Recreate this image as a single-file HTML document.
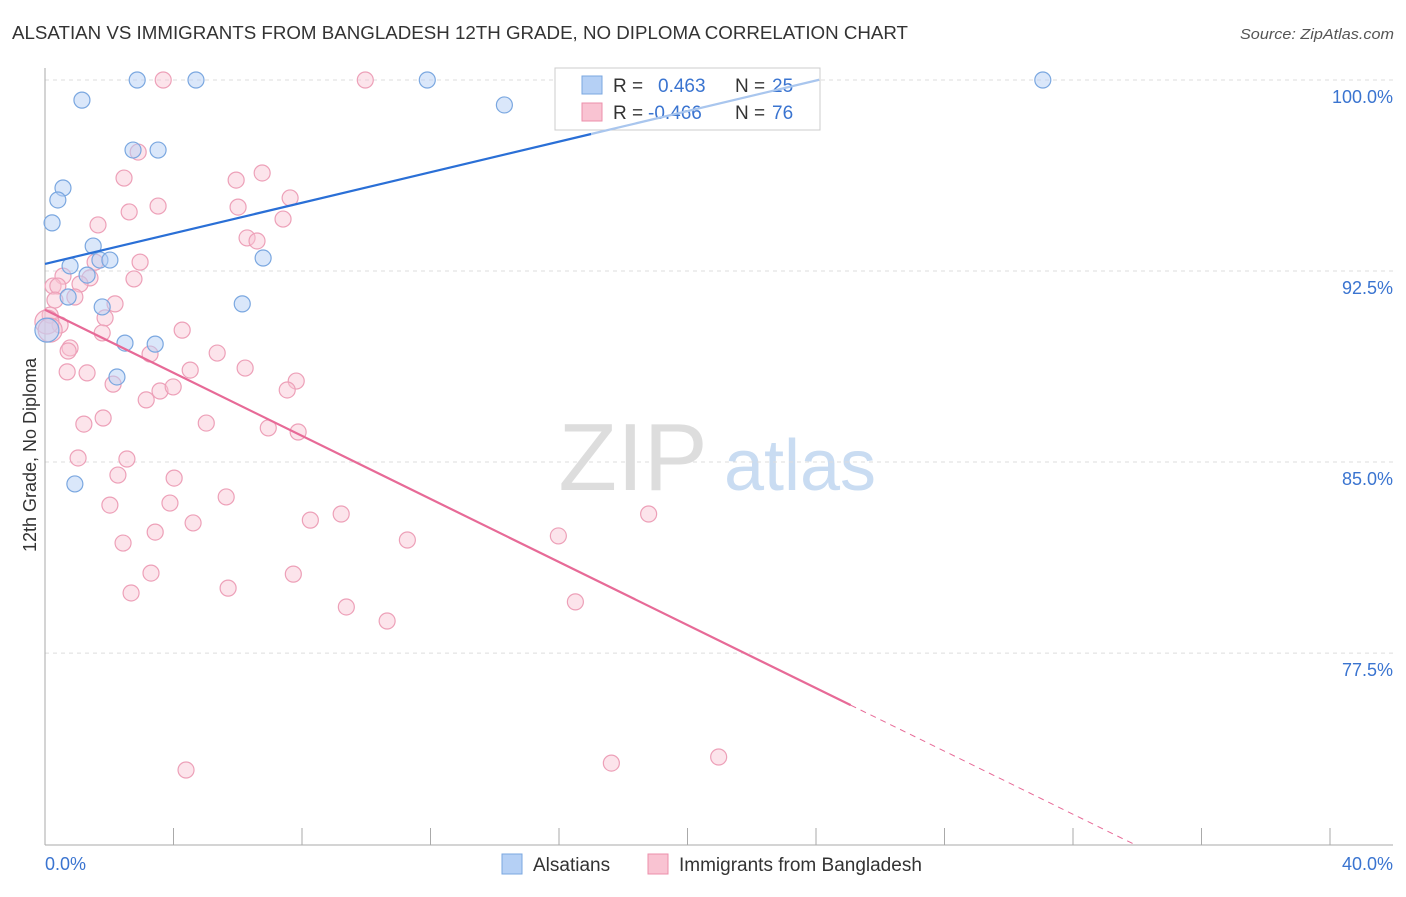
<!DOCTYPE html>
<html><head><meta charset="utf-8"><style>
body{margin:0;background:#fff;font-family:"Liberation Sans",sans-serif;}
svg text{font-family:"Liberation Sans",sans-serif;}
</style></head><body>
<svg id="chart" width="1406" height="892">
<text x="12" y="39" font-size="18" fill="#333" textLength="896" lengthAdjust="spacingAndGlyphs">ALSATIAN VS IMMIGRANTS FROM BANGLADESH 12TH GRADE, NO DIPLOMA CORRELATION CHART</text>
<text x="1240" y="39" font-size="15" fill="#555" font-style="italic" textLength="154" lengthAdjust="spacingAndGlyphs">Source: ZipAtlas.com</text>
<text x="36" y="455" font-size="18" fill="#333" transform="rotate(-90 36 455)" text-anchor="middle">12th Grade, No Diploma</text>
<g><text x="633" y="490" font-size="96" fill="#ddd" font-family="Liberation Serif,serif" text-anchor="middle">ZIP</text><text x="800" y="490" font-size="72" fill="#c9dcf2" text-anchor="middle">atlas</text></g>
<g id="grid"></g><g id="axes"></g>
<g>
<rect x="555" y="68" width="265" height="62" fill="#fff" stroke="#ccc"/>
<rect x="582" y="76" width="20" height="18" fill="#b5d0f5" stroke="#7aa7e0"/>
<text x="613" y="92" font-size="19" fill="#333">R = </text><text x="658" y="92" font-size="19" fill="#3a74d0">0.463</text>
<text x="735" y="92" font-size="19" fill="#333">N = </text><text x="772" y="92" font-size="19" fill="#3a74d0">25</text>
<rect x="582" y="103" width="20" height="18" fill="#f9c3d2" stroke="#ec8fab"/>
<text x="613" y="119" font-size="19" fill="#333">R = </text><text x="648" y="119" font-size="19" fill="#3a74d0">-0.466</text>
<text x="735" y="119" font-size="19" fill="#333">N = </text><text x="772" y="119" font-size="19" fill="#3a74d0">76</text>
</g>
<g id="marks"></g>
<g>
<rect x="502" y="854" width="20" height="20" fill="#b5d0f5" stroke="#7aa7e0"/><text x="533" y="871" font-size="19" fill="#333">Alsatians</text>
<rect x="648" y="854" width="20" height="20" fill="#f9c3d2" stroke="#ec8fab"/><text x="679" y="871" font-size="19" fill="#333">Immigrants from Bangladesh</text>
</g>
</svg>
<script>
const yTicks=[100,92.5,85,77.5];
const yTickLabels=["100.0%","92.5%","85.0%","77.5%"];
const xTicks=[0,4,8,12,16,20,24,28,32,36,40];
const blueX=[2.87,4.70,11.90,31.06,1.15,14.30,2.74,3.52,0.56,0.40,0.22,1.50,0.78,1.71,2.02,1.31,6.79,0.72,1.78,6.14,2.49,3.43,2.24,0.93,0.06];
const blueY=[100,100,100,100,99.21,99.02,97.25,97.25,95.76,95.29,94.39,93.48,92.70,92.93,92.93,92.34,93.01,91.48,91.09,91.21,89.67,89.63,88.34,84.14,90.18];
const pinkX=[3.68,9.97,2.90,2.46,6.76,5.95,3.52,2.62,6.01,7.63,1.65,7.41,6.29,6.60,1.56,2.96,0.56,1.40,2.77,0.25,0.40,1.09,0.93,2.18,0.31,0.16,1.87,0.47,1.78,4.27,0.78,0.72,3.27,5.36,0.69,1.31,4.52,6.23,2.12,7.82,7.54,3.58,3.99,3.15,5.02,1.81,1.21,6.95,7.88,1.03,2.55,2.27,4.02,5.64,3.89,2.02,4.61,8.26,9.22,18.79,3.43,11.28,15.98,2.43,3.30,7.73,2.68,5.70,9.38,16.51,10.65,4.39,17.63,20.97,0.06,0.16];
const pinkY=[100,100,97.17,96.15,96.35,96.07,95.05,94.82,95.01,95.37,94.31,94.54,93.80,93.68,92.85,92.85,92.30,92.23,92.19,91.91,91.91,91.99,91.48,91.21,91.36,90.77,90.66,90.38,90.07,90.18,89.48,89.36,89.24,89.28,88.54,88.50,88.61,88.69,88.06,88.18,87.83,87.79,87.95,87.44,86.53,86.73,86.49,86.34,86.18,85.16,85.12,84.49,84.37,83.63,83.39,83.31,82.61,82.72,82.96,82.96,82.25,81.94,82.10,81.82,80.64,80.60,79.86,80.05,79.31,79.51,78.76,72.91,73.18,73.42,90.50,90.18];
const blueTrend=[92.78,0.30];
const pinkTrend=[90.98,-0.619];
const X=v=>45+v*32.125, Y=v=>80+(100-v)*25.47;
const NS="http://www.w3.org/2000/svg";
function mk(t,a,p){const e=document.createElementNS(NS,t);for(const k in a)e.setAttribute(k,a[k]);p.appendChild(e);return e;}
const grid=document.getElementById('grid'),axes=document.getElementById('axes'),marks=document.getElementById('marks');
yTicks.forEach((t,i)=>{
 const l=mk('line',{x1:45,x2:1393,y1:Y(t),y2:Y(t),stroke:'#ddd','stroke-dasharray':'4,4'},grid);
 
 
 const tx=mk('text',{x:1393,y:Y(t)+23,'font-size':18,fill:'#3a74d0','text-anchor':'end'},axes);tx.textContent=yTickLabels[i];
 
 
});
mk('line',{x1:45,x2:45,y1:68,y2:845,stroke:'#aaa'},axes);
mk('line',{x1:45,x2:1393,y1:845,y2:845,stroke:'#aaa'},axes);
xTicks.forEach(t=>{const l=mk('line',{x1:X(t),x2:X(t),y1:828,y2:845,stroke:'#aaa'},axes);
 
 });
let a=mk('text',{x:45,y:870,'font-size':18,fill:'#3a74d0'},axes);a.textContent='0.0%';


a=mk('text',{x:1393,y:870,'font-size':18,fill:'#3a74d0','text-anchor':'end'},axes);a.textContent='40.0%';


pinkX.forEach((x,i)=>{const c=mk('circle',{cx:X(x),cy:Y(pinkY[i]),r:i>=74?12:8,fill:'rgba(249,195,210,0.45)',stroke:'#eda0b8','stroke-width':1.2},marks);
 
 });
blueX.forEach((x,i)=>{const c=mk('circle',{cx:X(x),cy:Y(blueY[i]),r:i==24?12:8,fill:'rgba(181,208,245,0.5)',stroke:'#7aa7e0','stroke-width':1.2},marks);
 
 });
let l=mk('line',{x1:X(0),y1:Y(blueTrend[0]),x2:X(17),y2:Y(blueTrend[0]+blueTrend[1]*17),stroke:'#2a6fd6','stroke-width':2.2},marks);


l=mk('line',{x1:X(17),y1:Y(blueTrend[0]+blueTrend[1]*17),x2:X(24.1),y2:Y(blueTrend[0]+blueTrend[1]*24.1),stroke:'#a9c6ee','stroke-width':2.2},marks);


l=mk('line',{x1:X(0),y1:Y(pinkTrend[0]),x2:X(25.08),y2:Y(pinkTrend[0]+pinkTrend[1]*25.08),stroke:'#e76a97','stroke-width':2.2},marks);


const xe=(70-pinkTrend[0])/pinkTrend[1];
l=mk('line',{x1:X(25.08),y1:Y(pinkTrend[0]+pinkTrend[1]*25.08),x2:X(xe),y2:Y(70),stroke:'#e76a97','stroke-width':1,'stroke-dasharray':'6,5'},marks);


</script>
</body></html>
